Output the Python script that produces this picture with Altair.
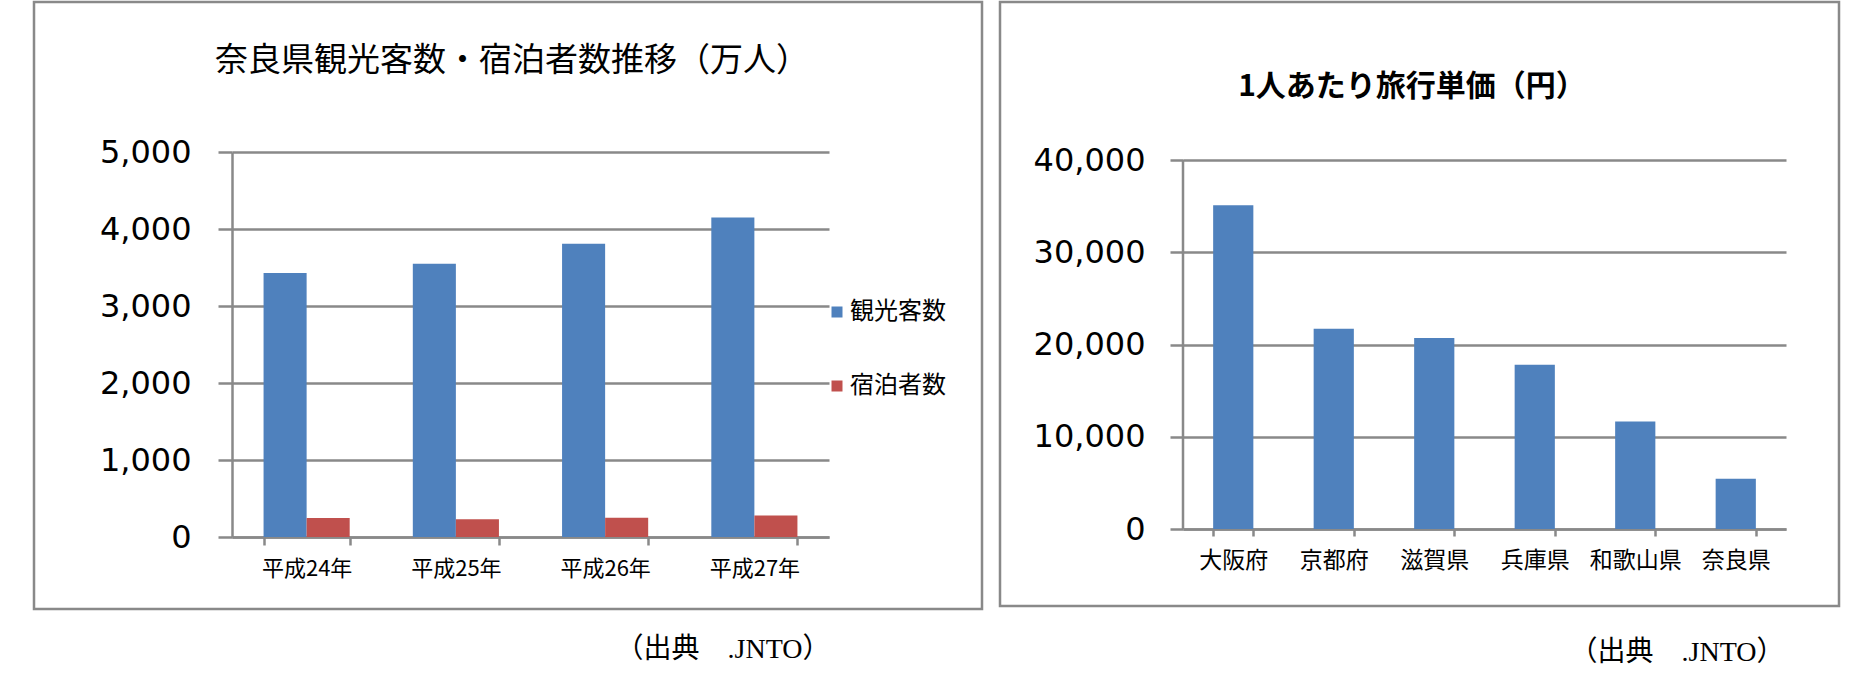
import altair as alt
import pandas as pd

# ---- data ----
years = ['平成24年', '平成25年', '平成26年', '平成27年']
series_names = ['観光客数', '宿泊者数']
visitors = [3430, 3550, 3810, 4150]
stays = [247, 229, 250, 278]
left_ticks = [0, 1000, 2000, 3000, 4000, 5000]

prefs = ['大阪府', '京都府', '滋賀県', '兵庫県', '和歌山県', '奈良県']
unit_price = [35100, 21700, 20700, 17800, 11650, 5450]
right_ticks = [0, 10000, 20000, 30000, 40000]

left_title = '奈良県観光客数・宿泊者数推移（万人）'
right_title = '1人あたり旅行単価（円）'
source_note = '（出典　.JNTO）'

# ---- style ----
BLUE = '#4F81BD'
RED = '#C0504D'
GRAY = '#898989'
CJK = 'Noto Sans CJK JP'
SERIF = 'Liberation Serif, Noto Sans CJK JP'
LW, LH = 597, 385
RW, RH = 603, 377
R_TOP_GAP = 8  # right plot's 40,000 line sits 8px below left plot's 5,000 line

one = pd.DataFrame({'k': [0]})


def border(x0, x1, y0, y1):
    return alt.Chart(one).mark_rect(fill='white', fillOpacity=0, stroke=GRAY, strokeWidth=2.5).encode(
        x=alt.value(x0), x2=alt.value(x1), y=alt.value(y0), y2=alt.value(y1))


def label(text, x, y, size, font, weight='normal'):
    return alt.Chart(pd.DataFrame({'t': [text]})).mark_text(
        font=font, fontSize=size, fontWeight=weight, color='#000', align='center', baseline='middle'
    ).encode(text='t:N', x=alt.value(x), y=alt.value(y))


# ---- left chart ----
df_left = pd.DataFrame({
    'year': years * 2,
    'series': [series_names[0]] * len(years) + [series_names[1]] * len(years),
    'value': visitors + stays,
})

bars_l = alt.Chart(df_left).mark_bar().encode(
    x=alt.X('year:N', sort=years,
            scale=alt.Scale(paddingInner=0.423, paddingOuter=0.2115),
            axis=alt.Axis(title=None, labelAngle=0, tickBand='extent', tickSize=8, tickWidth=2.5,
                          tickColor=GRAY, domainColor=GRAY, domainWidth=2.5, grid=False,
                          labelFont=CJK, labelFontSize=22, labelColor='#000', labelPadding=13)),
    xOffset=alt.XOffset('series:N', sort=series_names, scale=alt.Scale(paddingInner=0, paddingOuter=0)),
    y=alt.Y('value:Q', scale=alt.Scale(domain=[0, 5000], nice=False),
            axis=alt.Axis(title=None, values=left_ticks, format=',d', grid=True, gridColor=GRAY,
                          gridWidth=2.5, tickSize=14, tickWidth=2.5, tickColor=GRAY,
                          domainColor=GRAY, domainWidth=2.5, labelFont='DejaVu Sans',
                          labelFontSize=32, labelColor='#000', labelPadding=27)),
    color=alt.Color('series:N', sort=series_names,
                    scale=alt.Scale(domain=series_names, range=[BLUE, RED]),
                    legend=alt.Legend(title=None, orient='none', legendX=593, legendY=148,
                                      symbolType='square', symbolSize=121, symbolStrokeWidth=0,
                                      labelFont=CJK, labelFontSize=24, labelColor='#000',
                                      labelOffset=1, rowPadding=50, padding=0)),
)

left = alt.layer(
    border(-198, 750, -150, 457),
    bars_l,
    label(left_title, 280, -91, 33, CJK),
    label(source_note, 491, 498, 28, SERIF),
).properties(width=LW, height=LH)

# ---- right chart ----
df_right = pd.DataFrame({'pref': prefs, 'price': unit_price})
dom_max = right_ticks[-1] * RH / (RH - R_TOP_GAP)

bars_r = alt.Chart(df_right).mark_bar(color=BLUE).encode(
    x=alt.X('pref:N', sort=prefs,
            scale=alt.Scale(paddingInner=0.6, paddingOuter=0.3),
            axis=alt.Axis(title=None, labelAngle=0, tickBand='extent', tickSize=7, tickWidth=2.5,
                          tickColor=GRAY, domainColor=GRAY, domainWidth=2.5, grid=False,
                          labelFont=CJK, labelFontSize=23, labelColor='#000', labelPadding=13)),
    y=alt.Y('price:Q', scale=alt.Scale(domain=[0, dom_max], nice=False),
            axis=alt.Axis(title=None, values=right_ticks, format=',d', grid=True, gridColor=GRAY,
                          gridWidth=2.5, tickSize=13, tickWidth=2.5, tickColor=GRAY,
                          domain=False, labelFont='DejaVu Sans',
                          labelFontSize=32, labelColor='#000', labelPadding=25)),
)

axis_line_r = alt.Chart(pd.DataFrame({'lo': [right_ticks[0]], 'hi': [right_ticks[-1]]})).mark_rule(
    color=GRAY, strokeWidth=2.5).encode(
    x=alt.value(0), y=alt.Y('lo:Q', title=None), y2='hi:Q')

right = alt.layer(
    border(-183, 656, -150, 454),
    bars_r,
    axis_line_r,
    label(right_title, 229, -65, 30, CJK, 'bold'),
    label(source_note, 494, 501, 28, SERIF),
).properties(width=RW, height=RH)

chart = alt.hconcat(left, right, spacing=354, bounds='flush').properties(
    padding={'left': 32, 'top': 0, 'right': 10, 'bottom': 10}
).configure_view(strokeWidth=0)

chart.save('out.html', embed_options={'renderer': 'svg', 'actions': False})
